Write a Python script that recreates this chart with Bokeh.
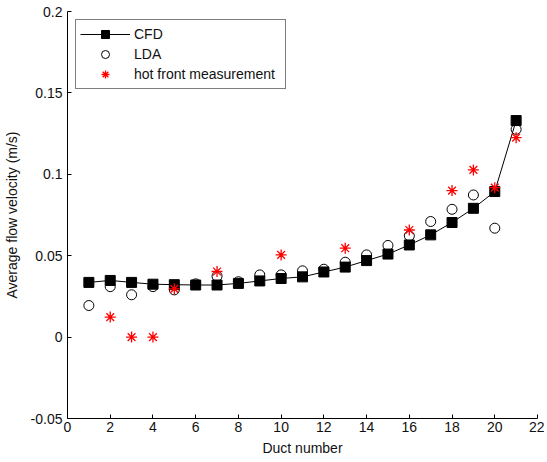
from bokeh.plotting import figure
from bokeh.models import Range1d, FixedTicker, Legend, LegendItem
from bokeh.embed import file_html
from bokeh.resources import INLINE

duct = list(range(1, 22))
cfd = [0.0336, 0.0348, 0.0336, 0.0325, 0.0322, 0.0320, 0.0320, 0.0330, 0.0345, 0.0360,
       0.0370, 0.0400, 0.0430, 0.0470, 0.0510, 0.0566, 0.0628, 0.0704, 0.0791, 0.0894, 0.1330]
lda = [0.0194, 0.0310, 0.0260, 0.0310, 0.0290, 0.0327, 0.0374, 0.0340, 0.0382, 0.0382,
       0.0407, 0.0417, 0.0460, 0.0505, 0.0563, 0.0622, 0.0710, 0.0785, 0.0873, 0.0669, 0.1276]
hot_duct = [2, 3, 4, 5, 7, 10, 13, 16, 18, 19, 20, 21]
hot = [0.0123, 0.0, 0.0, 0.0296, 0.0403, 0.0505, 0.0546, 0.0658, 0.0900, 0.1027, 0.0918, 0.1225]

x_ticks = list(range(0, 23, 2))
y_ticks = [-0.05, 0.0, 0.05, 0.1, 0.15, 0.2]
y_labels = ["-0.05", "0", "0.05", "0.1", "0.15", "0.2"]

FONT = "Liberation Sans"

p = figure(width=544, height=460, output_backend="svg", toolbar_location=None,
           x_range=Range1d(0, 22), y_range=Range1d(-0.05, 0.2),
           min_border_left=66, min_border_right=7, min_border_top=11, min_border_bottom=42)
p.outline_line_color = None
p.xgrid.visible = False
p.ygrid.visible = False

r_line = p.line(duct, cfd, line_color="black", line_width=1)
r_sq = p.scatter(duct, cfd, marker="square", size=10, fill_color="black", line_color="black")
r_lda = p.scatter(duct, lda, marker="circle", size=10, fill_color=None, line_color="black", line_width=1)
r_hot = p.scatter(hot_duct, hot, marker="asterisk", size=11, line_color="red", line_width=1.3)

for ax in (p.xaxis[0], p.yaxis[0]):
    ax.major_tick_in = 4
    ax.major_tick_out = 0
    ax.minor_tick_in = 0
    ax.minor_tick_out = 0
    ax.major_label_text_font = FONT
    ax.major_label_text_font_size = "14px"
    ax.major_label_text_color = "#111111"
    ax.axis_label_text_font = FONT
    ax.axis_label_text_font_size = "14px"
    ax.axis_label_text_font_style = "normal"
    ax.axis_label_text_color = "#111111"
    ax.axis_line_color = "black"
    ax.major_tick_line_color = "black"

p.xaxis.ticker = FixedTicker(ticks=x_ticks)
p.yaxis.ticker = FixedTicker(ticks=y_ticks)
p.yaxis.major_label_overrides = {v: l for v, l in zip(y_ticks, y_labels)}
p.xaxis.axis_label = "Duct number"
p.yaxis.axis_label = "Average flow velocity (m/s)"
p.xaxis.major_label_standoff = 3
p.xaxis.axis_label_standoff = 5
p.yaxis.major_label_standoff = 5
p.yaxis.axis_label_standoff = 8

legend = Legend(items=[
    LegendItem(label="CFD", renderers=[r_line, r_sq]),
    LegendItem(label="LDA", renderers=[r_lda]),
    LegendItem(label="hot front measurement", renderers=[r_hot]),
], location="top_left")
legend.margin = 8
legend.padding = 4
legend.spacing = 0
legend.label_text_font = FONT
legend.label_text_font_size = "14px"
legend.label_text_color = "#111111"
legend.glyph_width = 50
legend.glyph_height = 20
legend.label_height = 20
legend.label_width = 147
legend.label_standoff = 4
legend.border_line_color = "black"
legend.border_line_width = 1
legend.background_fill_alpha = 1
p.add_layout(legend)

open("out.html", "w").write(file_html(p, INLINE))
